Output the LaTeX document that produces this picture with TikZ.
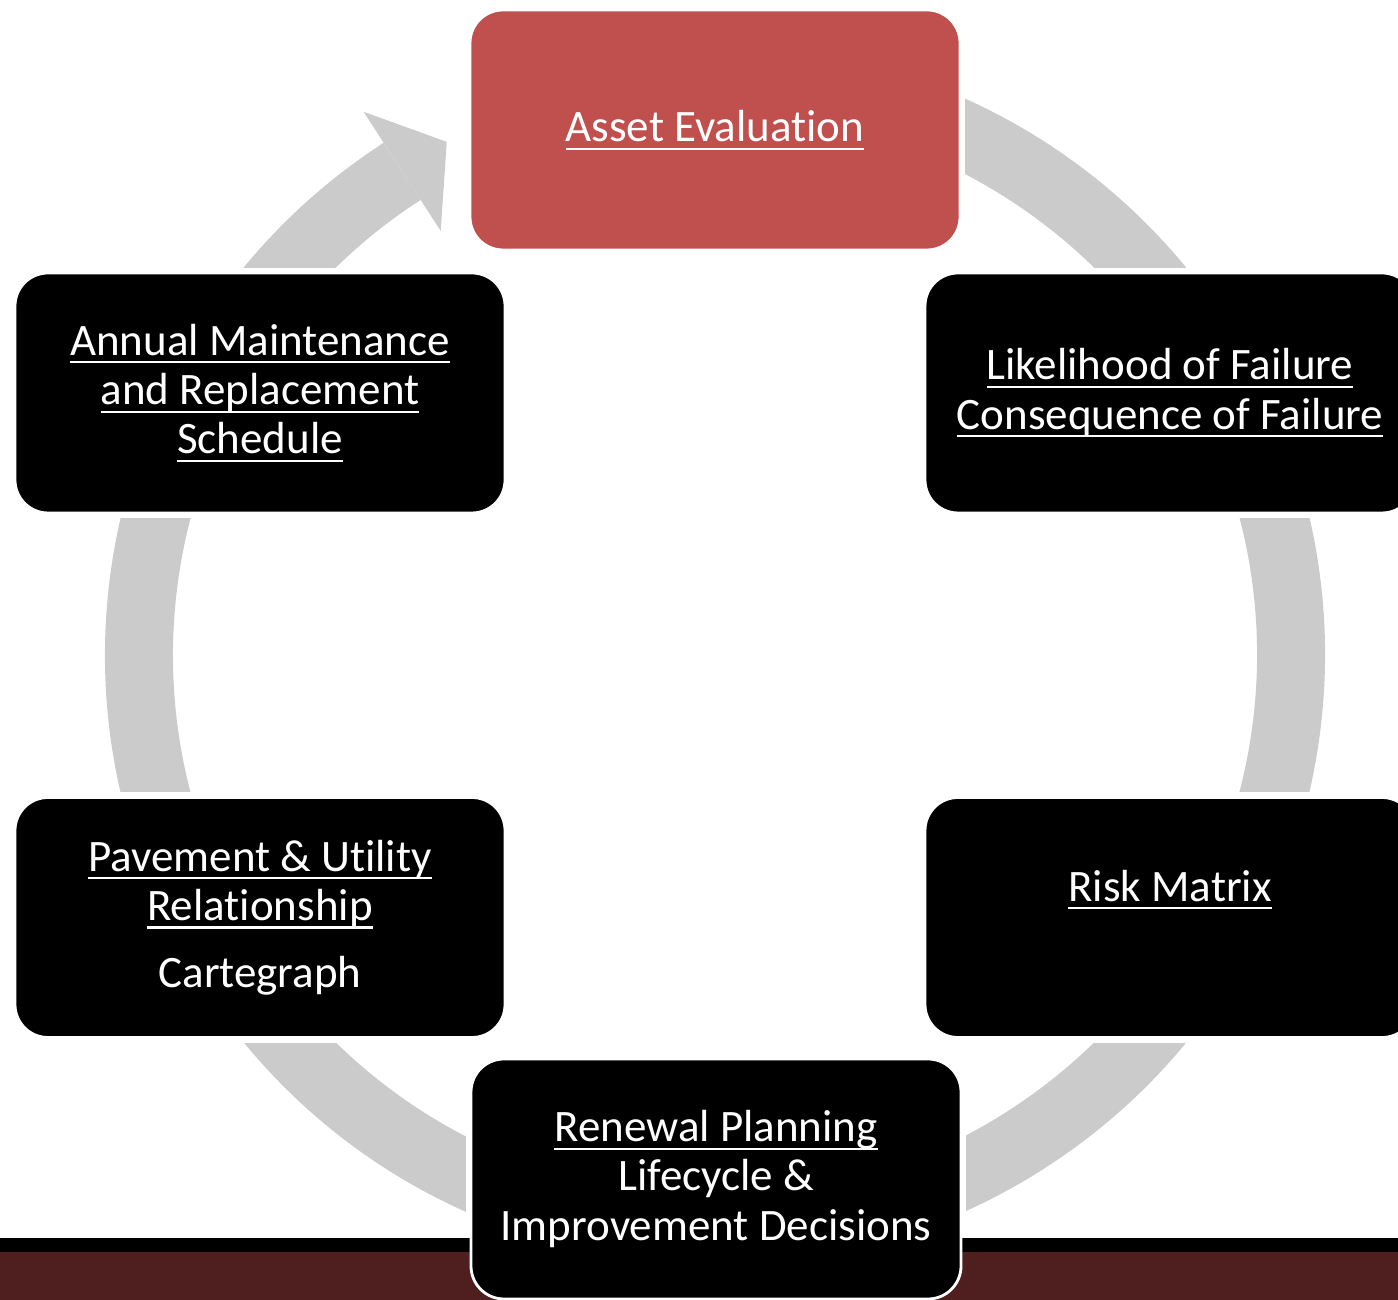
\documentclass[tikz,border=0pt]{standalone}
\usepackage{fontspec}
\setmainfont[Ligatures=NoCommon]{Carlito}
\usepackage{xcolor}
\usepackage{tikz}
\usetikzlibrary{backgrounds}

\definecolor{ringgray}{HTML}{CBCBCB}
\definecolor{evalred}{HTML}{C0504D}
\definecolor{barmaroon}{HTML}{4F1F1F}

% underlined stage title, rule kept at one depth
\newcommand{\ulabel}[1]{\setbox0\hbox{#1}\rlap{\rule[-2.3pt]{\wd0}{0.6pt}}\box0}

\tikzset{
	stage/.style={fill=black, draw=white, line width=0.8pt, shape=rectangle, rounded corners=0.33cm,
		minimum width=4.9cm, minimum height=2.4cm, inner sep=0pt, text=white, align=center,
		font=\fontsize{12.8}{14}\selectfont}
}

\begin{document}
\begin{tikzpicture}
	\useasboundingbox (0, 0) rectangle (13.98, 13);
	\node [stage, fill=evalred] (0) at (7.15, 11.70) {\ulabel{Asset Evaluation}};
	\node [stage] (1) at (11.70, 9.07) {\ulabel{Likelihood of Failure}\\\ulabel{Consequence of Failure}};
	\node [stage] (2) at (11.70, 3.825) {\ulabel{Risk Matrix}\\\strut};
	\node [stage] (3) at (7.16, 1.21) {\ulabel{Renewal Planning}\\Lifecycle \&\\Improvement Decisions};
	\node [stage] (4) at (2.60, 3.825) {\ulabel{Pavement \& Utility}\\\ulabel{Relationship}\\[5pt]Cartegraph};
	\node [stage] (5) at (2.60, 9.07) {\ulabel{Annual Maintenance}\\\ulabel{and Replacement}\\\ulabel{Schedule}};
	\begin{scope}[on background layer]
		\coordinate (c) at (7.15, 6.45);
		% ring, open between the arrow head and the top box
		\draw [ringgray, line width=0.68cm] ([shift={(122.9:5.76)}]c) arc [start angle=122.9, end angle=450, radius=5.76];
		\fill [ringgray] ([shift={(122.9:6.47)}]c) -- ([shift={(117.6:5.79)}]c) -- ([shift={(122.9:5.05)}]c) -- cycle;
		% white margin round each box
		\foreach \n in {0,...,5}
			\fill [white] ([shift={(-0.04,-0.04)}]\n.south west) rectangle ([shift={(0.04,0.04)}]\n.north east);
		% bottom band
		\fill [black] (0, 0.48) rectangle (13.98, 0.62);
		\fill [barmaroon] (0, 0) rectangle (13.98, 0.48);
	\end{scope}
\end{tikzpicture}
\end{document}
